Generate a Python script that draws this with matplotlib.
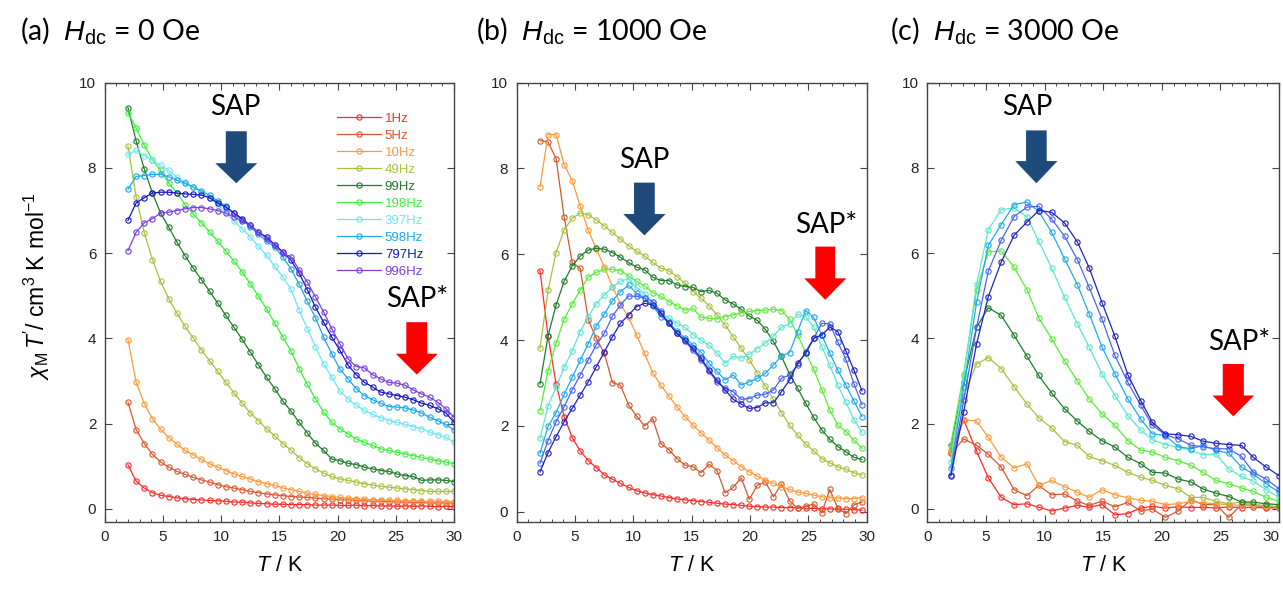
import matplotlib
matplotlib.use('Agg')
import matplotlib.pyplot as plt
from matplotlib.patches import Polygon
from matplotlib.ticker import MultipleLocator

plt.rcParams['font.family'] = ['Liberation Sans', 'DejaVu Sans']
plt.rcParams['mathtext.fontset'] = 'custom'
plt.rcParams['mathtext.rm'] = 'Liberation Sans'
plt.rcParams['mathtext.it'] = 'Liberation Sans:italic'

freqs = ['1Hz', '5Hz', '10Hz', '49Hz', '99Hz', '198Hz', '397Hz', '598Hz', '797Hz', '996Hz']
colors_a = ['#FF2A2A', '#E0552E', '#FF9A3C', '#A8C040', '#1E7D28',
            '#3CF03C', '#6EE6F5', '#1AA8F0', '#1414C8', '#7B3FE0']
colors_bc = ['#FF2A2A', '#D4582E', '#FF9A3C', '#A8C040', '#1E7D28',
             '#5CEC3C', '#5FE6D0', '#22AAEE', '#4A66EE', '#2222BE']

# temperatures (K)
T_a = [2.0, 2.7, 3.4, 4.1, 4.8, 5.5, 6.2, 6.9, 7.6, 8.3, 9.0, 9.7, 10.4, 11.1,
       11.8, 12.5, 13.2, 13.9, 14.6, 15.3, 16.0, 16.7, 17.4, 18.1, 18.8, 19.5,
       20.2, 20.9, 21.6, 22.3, 23.0, 23.7, 24.4, 25.1, 25.8, 26.5, 27.2, 27.9,
       28.6, 29.3, 30.0]
T_b = [2.0, 2.69, 3.38, 4.07, 4.76, 5.45, 6.14, 6.83, 7.52, 8.21, 8.9, 9.59,
       10.28, 10.97, 11.66, 12.35, 13.04, 13.73, 14.42, 15.11, 15.8, 16.49,
       17.18, 17.87, 18.56, 19.25, 19.94, 20.63, 21.32, 22.01, 22.7, 23.39,
       24.08, 24.77, 25.46, 26.15, 26.84, 27.53, 28.22, 28.91, 29.6]
T_c = [2.0, 3.1, 4.2, 5.2, 6.3, 7.4, 8.5, 9.5, 10.6, 11.7, 12.8, 13.8, 14.9,
       16.0, 17.1, 18.2, 19.2, 20.3, 21.4, 22.5, 23.5, 24.6, 25.7, 26.8, 27.8,
       28.9, 30.0]

# (a) Hdc = 0 Oe
a_1 = [1.03, 0.65, 0.49, 0.38, 0.32, 0.29, 0.26, 0.24, 0.22, 0.21, 0.20, 0.19, 0.18,
       0.16, 0.16, 0.14, 0.13, 0.12, 0.11, 0.11, 0.10, 0.10, 0.10, 0.09, 0.09, 0.09,
       0.08, 0.08, 0.09, 0.07, 0.08, 0.07, 0.07, 0.06, 0.07, 0.06, 0.07, 0.06, 0.05,
       0.06, 0.05]
a_5 = [2.50, 1.86, 1.53, 1.28, 1.10, 0.98, 0.88, 0.81, 0.74, 0.68, 0.63, 0.57, 0.52,
       0.49, 0.45, 0.41, 0.38, 0.35, 0.33, 0.31, 0.29, 0.28, 0.27, 0.25, 0.24, 0.23,
       0.22, 0.21, 0.20, 0.19, 0.18, 0.18, 0.17, 0.16, 0.16, 0.15, 0.15, 0.14, 0.14,
       0.14, 0.13]
a_10 = [3.97, 2.97, 2.47, 2.11, 1.87, 1.67, 1.52, 1.37, 1.27, 1.16, 1.06, 0.98, 0.90,
        0.82, 0.76, 0.70, 0.64, 0.59, 0.55, 0.49, 0.45, 0.41, 0.37, 0.34, 0.31, 0.29,
        0.27, 0.25, 0.24, 0.23, 0.22, 0.21, 0.20, 0.20, 0.19, 0.19, 0.18, 0.18, 0.18,
        0.17, 0.17]
a_49 = [8.51, 7.32, 6.48, 5.85, 5.34, 4.93, 4.59, 4.28, 4.01, 3.73, 3.48, 3.23, 2.97,
        2.72, 2.48, 2.25, 2.07, 1.88, 1.71, 1.53, 1.38, 1.20, 1.06, 0.94, 0.84, 0.76,
        0.70, 0.67, 0.63, 0.59, 0.56, 0.53, 0.51, 0.49, 0.47, 0.45, 0.43, 0.41, 0.41,
        0.41, 0.41]
a_99 = [9.41, 8.63, 7.97, 7.41, 6.94, 6.61, 6.26, 5.94, 5.65, 5.38, 5.11, 4.83, 4.54,
        4.26, 3.98, 3.68, 3.38, 3.09, 2.82, 2.53, 2.29, 2.03, 1.78, 1.54, 1.37, 1.17,
        1.13, 1.07, 1.04, 0.98, 0.94, 0.90, 0.88, 0.82, 0.78, 0.76, 0.67, 0.68, 0.68,
        0.67, 0.64]
a_198 = [9.29, 8.94, 8.53, 8.19, 7.94, 7.64, 7.41, 7.14, 6.92, 6.71, 6.50, 6.28, 6.05,
         5.81, 5.56, 5.28, 4.99, 4.69, 4.36, 4.03, 3.70, 3.29, 2.92, 2.58, 2.27, 2.03,
         1.88, 1.76, 1.64, 1.56, 1.49, 1.41, 1.37, 1.33, 1.29, 1.25, 1.21, 1.17, 1.13,
         1.10, 1.06]
a_397 = [8.32, 8.41, 8.29, 8.18, 8.06, 7.94, 7.78, 7.66, 7.55, 7.43, 7.30, 7.14, 6.96,
         6.75, 6.57, 6.38, 6.16, 5.95, 5.69, 5.44, 5.15, 4.66, 4.23, 3.80, 3.40, 3.09,
         2.76, 2.58, 2.43, 2.31, 2.22, 2.14, 2.07, 2.03, 1.98, 1.93, 1.88, 1.80, 1.74,
         1.68, 1.56]
a_598 = [7.50, 7.80, 7.82, 7.85, 7.85, 7.79, 7.71, 7.64, 7.55, 7.46, 7.36, 7.22, 7.10,
         6.94, 6.78, 6.62, 6.44, 6.28, 6.14, 5.91, 5.63, 5.27, 4.87, 4.48, 4.03, 3.64,
         3.28, 3.05, 2.82, 2.66, 2.56, 2.48, 2.40, 2.39, 2.37, 2.32, 2.25, 2.15, 2.07,
         1.98, 1.85]
a_797 = [6.77, 7.18, 7.30, 7.41, 7.43, 7.43, 7.41, 7.39, 7.38, 7.36, 7.30, 7.18, 7.08,
         6.94, 6.81, 6.65, 6.49, 6.38, 6.20, 6.03, 5.83, 5.53, 5.14, 4.73, 4.38, 4.03,
         3.72, 3.37, 3.15, 2.97, 2.86, 2.74, 2.70, 2.66, 2.62, 2.56, 2.48, 2.43, 2.35,
         2.25, 2.03]
a_996 = [6.06, 6.49, 6.71, 6.81, 6.94, 6.96, 7.00, 7.04, 7.07, 7.07, 7.04, 7.00, 6.94,
         6.85, 6.75, 6.65, 6.49, 6.34, 6.18, 6.00, 5.91, 5.61, 5.32, 4.97, 4.62, 4.23,
         3.87, 3.52, 3.34, 3.31, 3.15, 3.05, 2.97, 2.95, 2.90, 2.79, 2.70, 2.62, 2.50,
         2.35, 2.15]

# (b) Hdc = 1000 Oe
b_1 = [5.62, 4.10, 2.98, 2.22, 1.73, 1.42, 1.19, 1.03, 0.86, 0.76, 0.66, 0.57, 0.49,
       0.44, 0.40, 0.37, 0.33, 0.30, 0.28, 0.26, 0.24, 0.22, 0.20, 0.18, 0.17, 0.15,
       0.13, 0.12, 0.11, 0.11, 0.10, 0.10, 0.09, 0.08, 0.08, 0.07, 0.07, 0.06, 0.06,
       0.05, 0.04]
b_5 = [8.65, 8.62, 8.23, 6.87, 5.81, 5.67, 4.47, 4.04, 3.69, 3.01, 2.95, 2.49, 2.23,
       2.00, 2.17, 1.59, 1.45, 1.24, 1.09, 1.05, 0.91, 1.11, 0.96, 0.44, 0.57, 0.79,
       0.29, 0.62, 0.70, 0.35, 0.65, 0.26, 0.08, 0.13, 0.18, -0.02, 0.52, 0.08, -0.04,
       0.16, 0.23]
b_10 = [7.57, 8.79, 8.79, 8.09, 7.72, 7.12, 6.56, 6.12, 5.70, 5.25, 4.84, 4.53, 4.12,
        3.69, 3.24, 2.95, 2.70, 2.45, 2.22, 2.02, 1.84, 1.67, 1.49, 1.32, 1.19, 1.05,
        0.93, 0.83, 0.74, 0.66, 0.58, 0.52, 0.46, 0.43, 0.39, 0.35, 0.33, 0.32, 0.31,
        0.31, 0.33]
b_49 = [3.81, 5.16, 6.04, 6.57, 6.84, 6.96, 6.92, 6.80, 6.66, 6.51, 6.35, 6.20, 6.07,
        5.96, 5.81, 5.68, 5.62, 5.48, 5.33, 5.13, 4.98, 4.80, 4.59, 4.35, 4.08, 3.81,
        3.54, 3.24, 2.93, 2.62, 2.31, 2.02, 1.79, 1.58, 1.42, 1.24, 1.14, 1.05, 0.99,
        0.91, 0.86]
b_99 = [2.98, 4.10, 4.82, 5.37, 5.73, 5.96, 6.10, 6.14, 6.12, 6.04, 5.93, 5.81, 5.70,
        5.64, 5.47, 5.39, 5.39, 5.29, 5.25, 5.23, 5.13, 5.16, 5.09, 4.94, 4.84, 4.72,
        4.56, 4.46, 4.25, 3.97, 3.62, 3.21, 2.88, 2.53, 2.20, 1.91, 1.69, 1.52, 1.40,
        1.27, 1.22]
b_198 = [2.35, 3.29, 3.93, 4.49, 4.84, 5.17, 5.47, 5.58, 5.65, 5.65, 5.62, 5.50, 5.37,
         5.26, 5.11, 5.02, 4.90, 4.80, 4.70, 4.74, 4.53, 4.51, 4.49, 4.55, 4.59, 4.63,
         4.67, 4.69, 4.70, 4.72, 4.69, 4.49, 4.12, 3.71, 3.32, 2.85, 2.37, 2.02, 1.87,
         1.67, 1.48]
b_397 = [1.71, 2.47, 2.90, 3.37, 3.75, 4.20, 4.55, 4.85, 5.05, 5.24, 5.37, 5.43, 5.23,
         5.08, 4.90, 4.63, 4.52, 4.40, 4.30, 4.13, 4.00, 3.88, 3.70, 3.46, 3.62, 3.58,
         3.67, 3.80, 3.93, 4.10, 4.30, 4.38, 4.60, 4.55, 4.30, 3.85, 3.42, 2.95, 2.55,
         2.15, 1.85]
b_598 = [1.36, 1.99, 2.31, 2.74, 3.13, 3.53, 3.92, 4.33, 4.61, 4.92, 5.13, 5.28, 5.09,
         4.98, 4.79, 4.55, 4.42, 4.21, 4.05, 3.89, 3.72, 3.46, 3.27, 3.07, 3.19, 2.95,
         3.03, 3.11, 3.23, 3.42, 3.63, 3.71, 4.20, 4.69, 4.53, 4.12, 3.70, 3.30, 2.95,
         2.58, 2.22]
b_797 = [1.13, 1.66, 2.10, 2.45, 2.84, 3.19, 3.54, 3.89, 4.16, 4.56, 4.82, 5.03, 5.02,
         4.98, 4.90, 4.67, 4.39, 4.16, 3.97, 3.77, 3.54, 3.27, 3.03, 2.88, 2.80, 2.62,
         2.64, 2.72, 2.74, 2.84, 3.11, 3.19, 3.42, 3.73, 4.04, 4.39, 4.38, 3.95, 3.55,
         2.98, 2.50]
b_996 = [0.93, 1.38, 1.75, 2.10, 2.41, 2.72, 3.03, 3.38, 3.73, 4.08, 4.39, 4.59, 4.78,
         4.86, 4.82, 4.63, 4.39, 4.16, 4.00, 3.81, 3.58, 3.30, 3.06, 2.84, 2.62, 2.51,
         2.41, 2.43, 2.54, 2.54, 2.80, 3.07, 3.46, 3.69, 4.04, 4.12, 4.30, 4.20, 3.75,
         3.30, 2.82]

# (c) Hdc = 3000 Oe
c_1 = [1.30, 2.09, 1.35, 0.73, 0.27, 0.10, 0.12, 0.04, -0.05, 0.02, 0.08, 0.04, 0.10,
       -0.14, -0.11, 0.02, 0.06, 0.02, 0.05, 0.03, 0.04, 0.02, 0.05, 0.03, 0.04, 0.02,
       0.03]
c_5 = [1.30, 1.64, 1.49, 1.28, 0.98, 0.45, 0.31, 0.55, 0.33, 0.35, 0.18, 0.08, 0.18,
       0.05, 0.15, -0.05, 0.00, -0.20, -0.05, 0.22, 0.10, 0.10, -0.20, 0.10, 0.08, 0.05,
       0.02]
c_10 = [1.35, 2.09, 2.06, 1.68, 1.21, 0.96, 1.06, 0.55, 0.67, 0.52, 0.39, 0.27, 0.45,
        0.33, 0.26, 0.20, 0.18, 0.10, 0.12, 0.18, 0.14, 0.12, 0.10, 0.08, 0.10, 0.06,
        0.05]
c_49 = [1.37, 2.66, 3.40, 3.55, 3.29, 2.87, 2.46, 2.14, 1.90, 1.58, 1.49, 1.23, 1.13,
        1.02, 0.86, 0.74, 0.67, 0.55, 0.47, 0.27, 0.27, 0.18, 0.12, 0.16, 0.10, 0.08,
        0.05]
c_99 = [1.49, 2.97, 4.26, 4.72, 4.54, 4.07, 3.58, 3.13, 2.72, 2.35, 2.06, 1.82, 1.60,
        1.45, 1.21, 1.06, 0.86, 0.84, 0.70, 0.63, 0.47, 0.37, 0.29, 0.16, 0.16, 0.12,
        0.10]
c_198 = [1.51, 3.17, 5.14, 6.03, 6.05, 5.67, 5.14, 4.48, 3.99, 3.48, 3.00, 2.58, 2.23,
         1.96, 1.60, 1.38, 1.33, 1.21, 1.13, 1.02, 0.86, 0.67, 0.59, 0.49, 0.41, 0.27,
         0.18]
c_397 = [1.10, 3.10, 5.27, 6.55, 7.02, 7.06, 6.85, 6.28, 5.65, 4.97, 4.34, 3.80, 3.17,
         2.66, 2.19, 1.85, 1.62, 1.51, 1.45, 1.37, 1.27, 1.29, 0.94, 0.76, 0.65, 0.45,
         0.27]
c_598 = [0.95, 2.85, 4.85, 6.18, 6.67, 7.14, 7.20, 6.98, 6.49, 5.87, 5.26, 4.58, 3.80,
         3.17, 2.58, 2.11, 1.76, 1.72, 1.46, 1.41, 1.49, 1.37, 1.31, 0.98, 0.82, 0.59,
         0.39]
c_797 = [0.80, 2.55, 4.26, 5.58, 6.30, 6.86, 7.08, 7.10, 6.80, 6.40, 5.85, 5.20, 4.45,
         3.60, 2.97, 2.43, 1.96, 1.74, 1.64, 1.49, 1.46, 1.41, 1.41, 1.23, 0.86, 0.70,
         0.47]
c_996 = [0.78, 2.28, 3.87, 4.98, 5.79, 6.42, 6.73, 7.00, 6.96, 6.71, 6.26, 5.66, 4.84,
         4.05, 3.15, 2.54, 2.03, 1.76, 1.74, 1.70, 1.59, 1.54, 1.51, 1.49, 1.21, 0.98,
         0.78]

panel_a = [a_1, a_5, a_10, a_49, a_99, a_198, a_397, a_598, a_797, a_996]
panel_b = [b_1, b_5, b_10, b_49, b_99, b_198, b_397, b_598, b_797, b_996]
panel_c = [c_1, c_5, c_10, c_49, c_99, c_198, c_397, c_598, c_797, c_996]

NAVY = '#1F4A7C'
RED = '#FF0000'
LABEL_FONT = ['Lato', 'DejaVu Sans']


def block_arrow(ax, xc, y_top, y_neck, y_tip, shaft_w, head_w, color):
    verts = [(xc - shaft_w / 2, y_top), (xc + shaft_w / 2, y_top),
             (xc + shaft_w / 2, y_neck), (xc + head_w / 2, y_neck),
             (xc, y_tip), (xc - head_w / 2, y_neck), (xc - shaft_w / 2, y_neck)]
    ax.add_patch(Polygon(verts, closed=True, fc=color, ec='none', zorder=6))


def draw_panel(ax, T, series, cols, ylim):
    for y, c, lab in zip(series, cols, freqs):
        ax.plot(T, y, '-o', color=c, lw=0.9, ms=3.8, mfc='none', mew=0.8,
                label=lab, clip_on=True)
    ax.set_xlim(0, 30)
    ax.set_ylim(*ylim)
    ax.xaxis.set_major_locator(MultipleLocator(5))
    ax.xaxis.set_minor_locator(MultipleLocator(1))
    ax.yaxis.set_major_locator(MultipleLocator(2))
    ax.tick_params(which='both', direction='in', top=True, right=True,
                   colors='#444444', labelcolor='#222222', labelsize=11)
    ax.tick_params(which='major', length=5, width=0.8, pad=6)
    ax.tick_params(which='minor', length=2.5, width=0.7)
    for sp in ax.spines.values():
        sp.set_color('#444444')
        sp.set_linewidth(1.0)


fig = plt.figure(figsize=(12.83, 5.96), dpi=100)
ax_a = fig.add_axes([0.0816, 0.1247, 0.2723, 0.7366])
ax_b = fig.add_axes([0.4027, 0.1247, 0.2728, 0.7366])
ax_c = fig.add_axes([0.7228, 0.1247, 0.2741, 0.7366])

draw_panel(ax_a, T_a, panel_a, colors_a, (-0.3, 10))
draw_panel(ax_b, T_b, panel_b, colors_bc, (-0.23, 10))
draw_panel(ax_c, T_c, panel_c, colors_bc, (-0.3, 10))

leg = ax_a.legend(loc='upper left', bbox_to_anchor=(0.666, 0.932), frameon=False,
                  fontsize=9.5, handlelength=3.3, handletextpad=0.3,
                  labelspacing=0.36, borderaxespad=0, borderpad=0, numpoints=1)
for txt, ln in zip(leg.get_texts(), leg.get_lines()):
    txt.set_color(ln.get_color())

# SAP / SAP* annotations
ax_a.text(11.2, 9.23, 'SAP', ha='center', va='baseline', fontsize=20, family=LABEL_FONT)
block_arrow(ax_a, 11.3, 8.86, 8.11, 7.64, 1.8, 3.6, NAVY)
ax_a.text(26.87, 4.73, 'SAP*', ha='center', va='baseline', fontsize=20, family=LABEL_FONT)
block_arrow(ax_a, 26.8, 4.38, 3.64, 3.15, 1.8, 3.6, RED)

ax_b.text(10.92, 8.02, 'SAP', ha='center', va='baseline', fontsize=20, family=LABEL_FONT)
block_arrow(ax_b, 10.95, 7.67, 6.94, 6.44, 1.78, 3.63, NAVY)
ax_b.text(26.5, 6.50, 'SAP*', ha='center', va='baseline', fontsize=20, family=LABEL_FONT)
block_arrow(ax_b, 26.45, 6.18, 5.44, 4.94, 1.7, 3.6, RED)

ax_c.text(8.51, 9.23, 'SAP', ha='center', va='baseline', fontsize=20, family=LABEL_FONT)
block_arrow(ax_c, 9.3, 8.88, 8.16, 7.64, 1.76, 3.6, NAVY)
ax_c.text(26.6, 3.73, 'SAP*', ha='center', va='baseline', fontsize=20, family=LABEL_FONT)
block_arrow(ax_c, 26.1, 3.40, 2.66, 2.17, 1.8, 3.55, RED)

# panel titles
titles = ['(a)', '(b)', '(c)']
fields = ['0', '1000', '3000']
title_x = [0.0156, 0.371, 0.6935]
for lab, fv, tx in zip(titles, fields, title_x):
    fig.text(tx, 0.948, lab + r'  $\mathit{H}_{\mathrm{dc}}$ = ' + fv + ' Oe',
             fontsize=20.5, va='center', ha='left', family=LABEL_FONT)

# axis labels
fig.text(0.029, 0.52, r"$\chi_{\mathrm{M}}\,T'$/ cm$^{3}$ K mol$^{-1}$",
         rotation=90, ha='center', va='center', fontsize=16.5)
for ax in (ax_a, ax_b, ax_c):
    pos = ax.get_position()
    fig.text(pos.x0 + pos.width / 2, 0.052, r'$T$ / K', ha='center', va='center',
             fontsize=15.5)

# keep the last x tick label of panel (c) inside the canvas
fig.canvas.draw()
for tl in ax_c.get_xticklabels():
    if tl.get_text() == '30':
        tl.set_horizontalalignment('right')
        tl.set_x(30.6)

fig.savefig('out.png', dpi=100)
